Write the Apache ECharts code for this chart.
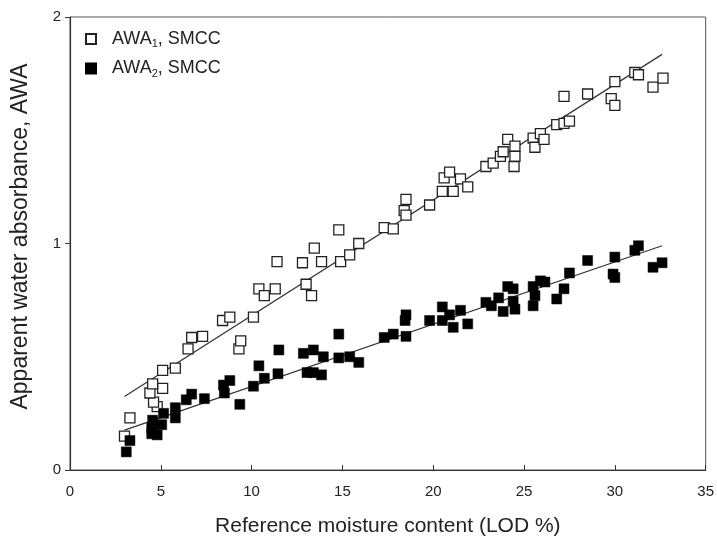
<!DOCTYPE html>
<html>
<head>
<meta charset="utf-8">
<script src="https://cdn.jsdelivr.net/npm/echarts@6/dist/echarts.min.js"></script>
<style>html,body{margin:0;padding:0;background:#fff;}#c{width:717px;height:549px;}</style>
</head>
<body>
<div id="c"></div>
<script>
// AWA1 (open squares): LOD %, AWA
const awa1X = [3.0,3.3,4.8,4.6,4.4,5.1,4.55,5.1,5.8,6.5,6.7,7.3,9.3,9.4,8.4,8.8,10.1,10.4,10.7,11.3,11.4,12.8,13.0,13.3,13.45,13.85,14.9,14.8,15.4,15.9,17.3,17.8,18.4,18.5,18.5,19.8,20.5,21.1,20.6,20.9,21.5,21.9,22.9,23.3,23.7,23.85,24.1,24.5,24.5,24.45,25.5,25.6,25.9,26.1,26.8,27.2,27.5,27.2,28.5,29.8,30.0,30.0,31.1,31.3,32.1,32.65];
const awa1Y = [0.15,0.23,0.28,0.30,0.34,0.36,0.38,0.44,0.45,0.535,0.585,0.59,0.535,0.57,0.66,0.675,0.675,0.80,0.77,0.80,0.92,0.915,0.82,0.77,0.98,0.92,0.92,1.06,0.95,1.00,1.07,1.065,1.145,1.195,1.125,1.17,1.23,1.23,1.29,1.315,1.285,1.25,1.34,1.355,1.385,1.405,1.46,1.43,1.385,1.34,1.465,1.425,1.485,1.46,1.525,1.53,1.54,1.65,1.66,1.64,1.61,1.715,1.755,1.745,1.69,1.73];
// AWA2 (filled squares)
const awa2X = [3.1,3.3,4.5,4.8,4.5,4.55,5.05,5.15,5.8,5.8,6.4,6.7,7.4,8.5,8.45,8.8,9.35,10.1,10.4,10.7,11.45,11.5,12.85,13.4,13.95,13.05,13.4,13.85,14.8,14.8,15.4,15.9,17.3,17.8,18.5,18.45,18.5,19.8,20.5,20.5,20.9,21.1,21.5,21.9,22.9,23.2,23.6,23.85,24.1,24.4,24.4,24.5,25.5,25.6,25.5,25.9,26.15,26.8,27.2,27.5,28.5,30.0,29.9,30.0,31.1,31.3,32.1,32.6];
const awa2Y = [0.08,0.13,0.16,0.155,0.185,0.22,0.20,0.25,0.23,0.275,0.31,0.335,0.315,0.34,0.375,0.395,0.29,0.37,0.46,0.405,0.425,0.53,0.515,0.53,0.50,0.43,0.43,0.42,0.60,0.495,0.50,0.475,0.585,0.60,0.59,0.66,0.685,0.66,0.72,0.66,0.685,0.63,0.705,0.645,0.74,0.725,0.76,0.70,0.81,0.80,0.745,0.71,0.81,0.77,0.725,0.835,0.83,0.755,0.80,0.87,0.925,0.94,0.865,0.85,0.97,0.99,0.895,0.915];
// regression lines (endpoints)
const fit1X = [3.0, 32.6];
const fit1Y = [0.325, 1.835];
const fit2X = [3.0, 32.6];
const fit2Y = [0.176, 0.99];
const xTicks = [0,5,10,15,20,25,30,35];
const yTicks = [0,1,2];

const zip = (a,b) => a.map((v,i)=>[v,b[i]]);
const font = 'Liberation Sans, Arial, sans-serif';
const chart = echarts.init(document.getElementById('c'));
chart.setOption({
  backgroundColor:'#fff',
  animation:false,
  textStyle:{fontFamily:font},
  grid:{left:70,right:11,top:17,bottom:79,show:true,borderColor:'#555',borderWidth:1},
  legend:{
    left:80, top:25, orient:'vertical', itemGap:10, itemWidth:10, itemHeight:10,
    data:[{name:'AWA1',icon:'rect'},{name:'AWA2',icon:'rect'}],
    formatter: n => n==='AWA1' ? '{p|}{a|AWA}{s|1}{a|, SMCC}' : '{p|}{a|AWA}{s|2}{a|, SMCC}',
    textStyle:{rich:{p:{width:11},a:{fontSize:18,color:'#222',fontFamily:font},s:{fontSize:11,color:'#222',fontFamily:font,padding:[10,0,0,0]}}}
  },
  xAxis:{
    type:'value', min:0, max:35, interval:5,
    name:'Reference moisture content (LOD %)', nameLocation:'middle', nameGap:46,
    nameTextStyle:{fontSize:21,color:'#222',fontFamily:font},
    axisLine:{lineStyle:{color:'#333',width:1.2}},
    axisTick:{inside:true,length:5,lineStyle:{color:'#333'}},
    axisLabel:{fontSize:15,color:'#222',margin:14},
    splitLine:{show:false}
  },
  yAxis:{
    type:'value', min:0, max:2, interval:1,
    name:'Apparent water absorbance, AWA', nameLocation:'middle', nameGap:38,
    nameTextStyle:{fontSize:23,color:'#222',fontFamily:font,padding:[0,0,0,14]},
    axisLine:{lineStyle:{color:'#333',width:1.2}},
    axisTick:{inside:false,length:5,lineStyle:{color:'#333'}},
    axisLabel:{fontSize:15,color:'#222',margin:9},
    splitLine:{show:false}
  },
  series:[
    {name:'AWA1',type:'scatter',symbol:'rect',symbolSize:10,data:zip(awa1X,awa1Y),
     itemStyle:{color:'#fff',borderColor:'#222',borderWidth:1.3,opacity:1},z:3},
    {name:'AWA2',type:'scatter',symbol:'rect',symbolSize:10,data:zip(awa2X,awa2Y),
     itemStyle:{color:'#000',borderColor:'#000',borderWidth:0.5,opacity:1},z:3},
    {name:'fit1',type:'line',data:zip(fit1X,fit1Y),symbol:'none',lineStyle:{color:'#333',width:1.2},z:2,silent:true},
    {name:'fit2',type:'line',data:zip(fit2X,fit2Y),symbol:'none',lineStyle:{color:'#333',width:1.2},z:2,silent:true}
  ]
});
</script>
</body>
</html>
